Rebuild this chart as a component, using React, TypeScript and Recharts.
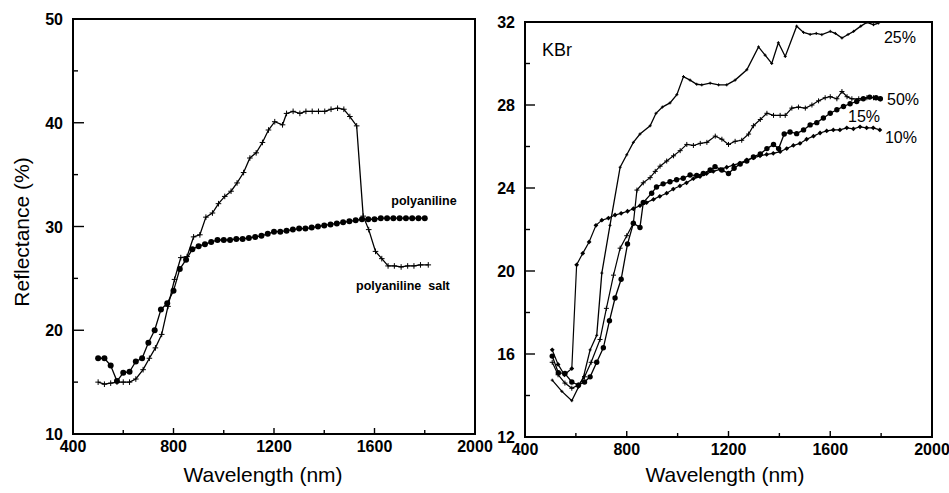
import React from 'react';
import { LineChart, Line, XAxis, YAxis, ReferenceDot } from 'recharts';

const FONT = '"Liberation Sans", Arial, Helvetica, sans-serif';

// ---------- ticks ----------
const xTicks = [400, 600, 800, 1000, 1200, 1400, 1600, 1800, 2000];
const xTickLabels = [400, 800, 1200, 1600, 2000];
const leftYTicks = [10, 15, 20, 25, 30, 35, 40, 45, 50];
const leftYTickLabels = [10, 20, 30, 40, 50];
const rightYTicks = [12, 14, 16, 18, 20, 22, 24, 26, 28, 30, 32];
const rightYTickLabels = [12, 16, 20, 24, 28, 32];

// ---------- left panel data ----------
const polyX = [500, 525, 550, 575, 600, 625, 650, 675, 700, 725, 750, 775, 800, 825, 850, 875, 900, 925, 950, 975, 1000, 1025, 1050, 1075, 1100, 1125, 1150, 1175, 1200, 1225, 1250, 1275, 1300, 1325, 1350, 1375, 1400, 1425, 1450, 1475, 1500, 1525, 1550, 1575, 1600, 1625, 1650, 1675, 1700, 1725, 1750, 1775, 1800];
const polyY = [17.3, 17.3, 16.6, 15.1, 15.9, 16.0, 17.0, 17.3, 18.8, 20.0, 22.0, 22.6, 23.8, 25.9, 26.8, 27.8, 28.1, 28.3, 28.5, 28.7, 28.7, 28.7, 28.8, 28.8, 28.9, 29.0, 29.1, 29.3, 29.5, 29.5, 29.6, 29.7, 29.8, 29.8, 29.9, 30.0, 30.1, 30.2, 30.3, 30.4, 30.5, 30.6, 30.7, 30.7, 30.7, 30.8, 30.8, 30.8, 30.8, 30.8, 30.8, 30.8, 30.8];

const saltX = [500, 525, 550, 575, 600, 625, 650, 679, 704, 728, 753, 778, 804, 829, 854, 880, 905, 929, 955, 979, 1004, 1029, 1053, 1079, 1104, 1129, 1154, 1178, 1203, 1234, 1250, 1276, 1303, 1327, 1352, 1377, 1402, 1427, 1453, 1478, 1502, 1529, 1555, 1577, 1604, 1629, 1654, 1679, 1706, 1732, 1757, 1783, 1814];
const saltY = [15.0, 14.8, 14.9, 15.0, 15.0, 15.0, 15.3, 16.2, 17.3, 18.3, 19.6, 22.3, 24.9, 27.0, 27.1, 29.0, 29.2, 30.9, 31.3, 32.2, 32.9, 33.4, 34.2, 35.2, 36.6, 37.1, 38.1, 39.3, 40.1, 39.8, 40.9, 41.1, 40.9, 41.1, 41.1, 41.1, 41.1, 41.3, 41.4, 41.3, 40.6, 39.7, 31.0, 29.7, 27.6, 26.9, 26.2, 26.2, 26.1, 26.2, 26.2, 26.3, 26.3];

// ---------- right panel data (KBr) ----------
const p25X = [507, 545, 584, 610, 630, 656, 682, 702, 734, 774, 800, 826, 852, 892, 915, 940, 970, 997, 1023, 1049, 1075, 1095, 1128, 1161, 1193, 1226, 1272, 1318, 1344, 1370, 1396, 1423, 1468, 1495, 1521, 1545, 1567, 1600, 1620, 1646, 1670, 1692, 1720, 1744, 1770, 1790];
const p25Y = [14.74, 14.2, 13.75, 14.4, 14.9, 16.2, 16.9, 19.9, 22.2, 25.0, 25.6, 26.2, 26.6, 27.0, 27.6, 27.9, 28.1, 28.5, 29.37, 29.2, 29.0, 28.97, 29.05, 28.97, 28.97, 29.2, 29.7, 30.8, 30.4, 30.0, 31.0, 30.34, 31.8, 31.5, 31.4, 31.45, 31.39, 31.55, 31.45, 31.23, 31.4, 31.55, 31.8, 31.98, 31.87, 31.95];

const p50X = [507, 530, 557, 584, 610, 634, 660, 695, 720, 748, 774, 800, 826, 840, 865, 892, 912, 931, 957, 984, 1010, 1036, 1062, 1089, 1115, 1148, 1174, 1200, 1226, 1252, 1279, 1298, 1325, 1351, 1377, 1403, 1423, 1449, 1475, 1502, 1528, 1554, 1580, 1600, 1626, 1646, 1666, 1685, 1712, 1744, 1770, 1797];
const p50Y = [15.6, 15.0, 14.6, 14.35, 14.5, 14.9, 15.6, 16.7, 18.2, 19.8, 21.1, 21.7, 22.3, 23.9, 24.25, 24.5, 24.8, 25.05, 25.3, 25.55, 25.8, 26.1, 26.05, 26.15, 26.2, 26.5, 26.35, 26.1, 26.25, 26.3, 26.6, 27.0, 27.3, 27.6, 27.5, 27.5, 27.5, 27.85, 27.9, 27.85, 28.0, 28.2, 28.35, 28.4, 28.3, 28.65, 28.4, 28.3, 28.3, 28.35, 28.35, 28.3];

const p15X = [507, 531, 557, 584, 610, 634, 656, 682, 708, 732, 754, 778, 803, 826, 852, 865, 898, 917, 943, 970, 996, 1022, 1049, 1075, 1101, 1128, 1147, 1174, 1200, 1222, 1246, 1272, 1298, 1325, 1351, 1377, 1397, 1419, 1442, 1468, 1495, 1521, 1547, 1573, 1600, 1626, 1652, 1678, 1704, 1730, 1755, 1780, 1797];
const p15Y = [15.9, 15.1, 15.06, 14.65, 14.5, 14.65, 14.9, 15.6, 16.3, 17.6, 18.7, 19.6, 21.3, 22.3, 22.1, 23.3, 23.75, 24.05, 24.2, 24.3, 24.4, 24.47, 24.63, 24.6, 24.7, 24.87, 25.03, 24.87, 24.7, 24.95, 25.16, 25.3, 25.5, 25.64, 25.9, 26.1, 25.9, 26.6, 26.7, 26.62, 26.8, 27.04, 27.15, 27.37, 27.6, 27.77, 27.93, 28.06, 28.17, 28.3, 28.38, 28.35, 28.3];

const p10X = [507, 530, 555, 584, 603, 627, 652, 679, 702, 728, 754, 778, 803, 826, 852, 878, 905, 930, 957, 983, 1009, 1035, 1062, 1088, 1114, 1140, 1167, 1193, 1219, 1245, 1272, 1298, 1324, 1350, 1376, 1403, 1429, 1455, 1481, 1507, 1534, 1560, 1586, 1612, 1638, 1665, 1691, 1717, 1743, 1769, 1795];
const p10Y = [16.2, 15.5, 15.0, 15.3, 20.3, 20.85, 21.4, 22.2, 22.45, 22.55, 22.7, 22.78, 22.88, 23.0, 23.15, 23.3, 23.45, 23.6, 23.75, 23.95, 24.1, 24.25, 24.45, 24.55, 24.7, 24.8, 24.9, 25.0, 25.1, 25.2, 25.35, 25.45, 25.55, 25.62, 25.67, 25.75, 25.9, 26.05, 26.15, 26.35, 26.5, 26.65, 26.75, 26.8, 26.8, 26.9, 26.85, 26.95, 26.9, 26.9, 26.8];

const toPoints = (xs: number[], ys: number[]) => xs.map((x, i) => ({ x, y: ys[i] }));

const polyData = toPoints(polyX, polyY);
const saltData = toPoints(saltX, saltY);
const d25 = toPoints(p25X, p25Y);
const d50 = toPoints(p50X, p50Y);
const d15 = toPoints(p15X, p15Y);
const d10 = toPoints(p10X, p10Y);

// ---------- layout (plot rectangles, page px) ----------
const H = 493;
const LEFT = { svgX: 0, svgW: 500, plotL: 73, plotR: 475, plotT: 19, plotB: 434 };
const RIGHT = { svgX: 480, svgW: 469, plotL: 525, plotR: 932, plotT: 22, plotB: 437 };

// ---------- custom ticks ----------
function makeXTick(labels: number[]) {
  return (props: any) => {
    const { x, y, payload, index } = props;
    const v = payload.value;
    const major = labels.includes(v);
    return (
      <g key={`xt-${index}`}>
        <line x1={x} x2={x} y1={y} y2={y - (major ? 6 : 4)} stroke="#000" strokeWidth={1.4} />
        {major && (
          <text x={x} y={y + 17.5} textAnchor="middle" fontSize={16} fontWeight="bold" fontFamily={FONT} fill="#000">
            {v}
          </text>
        )}
      </g>
    );
  };
}

function makeYTick(labels: number[], majorLen: number) {
  return (props: any) => {
    const { x, y, payload, index } = props;
    const v = payload.value;
    const major = labels.includes(v);
    return (
      <g key={`yt-${index}`}>
        <line x1={x} x2={x + (major ? majorLen : 5)} y1={y} y2={y} stroke="#000" strokeWidth={1.4} />
        {major && (
          <text x={x - 10} y={y + 6} textAnchor="end" fontSize={16} fontWeight="bold" fontFamily={FONT} fill="#000">
            {v}
          </text>
        )}
      </g>
    );
  };
}

// ---------- custom markers ----------
const circleDot = (r: number) => (p: any) =>
  <circle key={`c-${p.index}`} cx={p.cx} cy={p.cy} r={r} fill="#000" stroke="none" />;
const crossDot = (s: number) => (p: any) =>
  <path key={`x-${p.index}`} d={`M${p.cx - s},${p.cy}h${2 * s}M${p.cx},${p.cy - s}v${2 * s}`} stroke="#000" strokeWidth={1} fill="none" />;
const diamondDot = (s: number) => (p: any) =>
  <path key={`d-${p.index}`} d={`M${p.cx},${p.cy - s}L${p.cx + s},${p.cy}L${p.cx},${p.cy + s}L${p.cx - s},${p.cy}Z`} fill="#000" stroke="none" />;

const textLabel = (value: string, size: number, bold = false) => ({
  value,
  position: 'center' as const,
  fontSize: size,
  fontWeight: bold ? 'bold' : 'normal',
  fontFamily: FONT,
  fill: '#000',
});

const titleStyle: React.CSSProperties = {
  position: 'absolute',
  fontFamily: FONT,
  fontSize: 21,
  lineHeight: 1,
  whiteSpace: 'nowrap',
  color: '#000',
};

// frame drawn as four thin filled bars (2px) around the plot rectangle
function Frame({ p }: { p: typeof LEFT }) {
  const t = 2;
  const bar = (left: number, top: number, width: number, height: number, k: string) => (
    <div key={k} style={{ position: 'absolute', left, top, width, height, backgroundColor: 'rgb(0,0,0)', pointerEvents: 'none' }} />
  );
  const w = p.plotR - p.plotL;
  const h = p.plotB - p.plotT;
  return (
    <>
      {bar(p.plotL - 1, p.plotT - 1, w + t, t, 'top')}
      {bar(p.plotL - 1, p.plotB - 1, w + t, t, 'bottom')}
      {bar(p.plotL - 1, p.plotT - 1, t, h + t, 'left')}
      {bar(p.plotR - 1, p.plotT - 1, t, h + t, 'right')}
    </>
  );
}

function Panel({ p, yDomain, yTicks, yLabels, yMajorLen, children }: any) {
  const yAxisW = p.plotL - p.svgX;
  const xAxisH = H - p.plotB;
  return (
    <div style={{ position: 'absolute', left: p.svgX, top: 0 }}>
      <LineChart width={p.svgW} height={H} margin={{ top: p.plotT, right: p.svgX + p.svgW - p.plotR, left: 0, bottom: 0 }}>
        <XAxis
          type="number"
          dataKey="x"
          domain={[400, 2000]}
          ticks={xTicks}
          interval={0}
          allowDataOverflow
          axisLine={{ stroke: '#000', strokeWidth: 2 }}
          tickLine={false}
          tickSize={0}
          tickMargin={0}
          height={xAxisH}
          tick={makeXTick(xTickLabels)}
        />
        <YAxis
          type="number"
          dataKey="y"
          domain={yDomain}
          ticks={yTicks}
          interval={0}
          allowDataOverflow
          axisLine={{ stroke: '#000', strokeWidth: 2 }}
          tickLine={false}
          tickSize={0}
          tickMargin={0}
          width={yAxisW}
          tick={makeYTick(yLabels, yMajorLen)}
        />
        {children}
      </LineChart>
    </div>
  );
}

export default function App() {
  return (
    <div style={{ position: 'absolute', left: 0, top: 0, width: 949, height: 493, background: '#fff', overflow: 'hidden' }}>
      <Panel p={LEFT} yDomain={[10, 50]} yTicks={leftYTicks} yLabels={leftYTickLabels} yMajorLen={11}>
        <Line data={saltData} dataKey="y" type="linear" stroke="#000" strokeWidth={1.3} dot={crossDot(2.8)} activeDot={false} isAnimationActive={false} />
        <Line data={polyData} dataKey="y" type="linear" stroke="#000" strokeWidth={1.3} dot={circleDot(3)} activeDot={false} isAnimationActive={false} />
        <ReferenceDot x={1797} y={32.46} r={0} fill="none" stroke="none" label={textLabel('polyaniline', 12.5, true)} />
        <ReferenceDot x={1713} y={24.27} r={0} fill="none" stroke="none" label={textLabel('polyaniline\u00a0 salt', 12.5, true)} />
      </Panel>
      <Frame p={LEFT} />

      <Panel p={RIGHT} yDomain={[12, 32]} yTicks={rightYTicks} yLabels={rightYTickLabels} yMajorLen={10}>
        <Line data={d25} dataKey="y" type="linear" stroke="#000" strokeWidth={1.3} dot={crossDot(1.5)} activeDot={false} isAnimationActive={false} />
        <Line data={d50} dataKey="y" type="linear" stroke="#000" strokeWidth={1.2} dot={crossDot(2.5)} activeDot={false} isAnimationActive={false} />
        <Line data={d15} dataKey="y" type="linear" stroke="#000" strokeWidth={1.3} dot={circleDot(2.7)} activeDot={false} isAnimationActive={false} />
        <Line data={d10} dataKey="y" type="linear" stroke="#000" strokeWidth={1.2} dot={diamondDot(2.4)} activeDot={false} isAnimationActive={false} />
        <ReferenceDot x={526} y={30.66} r={0} fill="none" stroke="none" label={textLabel('KBr', 18)} />
        <ReferenceDot x={1874} y={31.24} r={0} fill="none" stroke="none" label={textLabel('25%', 16)} />
        <ReferenceDot x={1886} y={28.25} r={0} fill="none" stroke="none" label={textLabel('50%', 16)} />
        <ReferenceDot x={1733} y={27.47} r={0} fill="none" stroke="none" label={textLabel('15%', 16)} />
        <ReferenceDot x={1878} y={26.46} r={0} fill="none" stroke="none" label={textLabel('10%', 16)} />
      </Panel>
      <Frame p={RIGHT} />

      {/* Axis titles */}
      <div style={{ ...titleStyle, left: 21, top: 232, transform: 'translate(-50%, -50%) rotate(-90deg)' }}>Reflectance (%)</div>
      <div style={{ ...titleStyle, left: 263, top: 474, transform: 'translate(-50%, -50%)' }}>Wavelength (nm)</div>
      <div style={{ ...titleStyle, left: 725, top: 474, transform: 'translate(-50%, -50%)' }}>Wavelength (nm)</div>
    </div>
  );
}
